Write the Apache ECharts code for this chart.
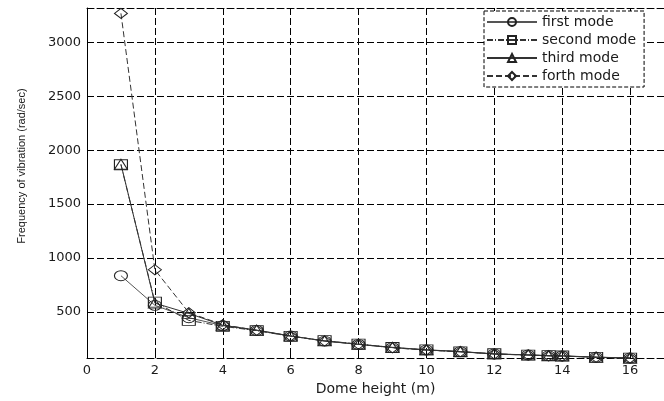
<!DOCTYPE html>
<html>
<head>
<meta charset="utf-8">
<script src="https://cdn.jsdelivr.net/npm/echarts/dist/echarts.min.js"></script>
<style>
  html, body { margin: 0; padding: 0; background: #fff; }
  #main { width: 664px; height: 401px; }
</style>
</head>
<body>
<div id="main"></div>
<script>
// dome height (m)
var heights = [1, 2, 3, 4, 5, 6, 7, 8, 9, 10, 11, 12, 13, 13.6, 14, 15, 16];
// frequency of vibration (rad/sec)
var firstMode  = [835, 560, 445, 372, 327, 275, 228, 197, 167, 145, 130, 108, 99, 92, 90, 78, 71];
var secondMode = [1865, 590, 420, 365, 325, 272, 232, 200, 168, 146, 128, 110, 98, 93, 89, 77, 70];
var thirdMode  = [1870, 580, 485, 375, 330, 276, 230, 198, 170, 147, 131, 109, 100, 92, 91, 79, 71];
var forthMode  = [3270, 890, 492, 380, 328, 274, 229, 199, 166, 144, 129, 107, 98, 91, 89, 78, 70];
var yTicks = [500, 1000, 1500, 2000, 2500, 3000];

var ink = '#1a1a1a';
var font = 'DejaVu Sans';

function pairs(vals) {
    return heights.map(function (h, i) { return [h, vals[i]]; });
}

function mode(name, vals, symbol, dash, lineColor) {
    return {
        name: name,
        type: 'line',
        data: pairs(vals),
        symbol: symbol,
        symbolSize: [13, 10],
        showAllSymbol: true,
        clip: false,
        lineStyle: { color: lineColor, width: 1, type: dash },
        itemStyle: { color: 'rgba(0,0,0,0)', borderColor: '#222', borderWidth: 1 },
        emphasis: { disabled: true },
        z: 5
    };
}

var chart = echarts.init(document.getElementById('main'));
var option = {
    animation: false,
    backgroundColor: '#fff',
    grid: { left: 87, top: 8, right: -16, bottom: 38 },
    legend: {
        orient: 'vertical',
        left: 484,
        top: 11,
        itemWidth: 50,
        itemHeight: 10,
        itemGap: 4,
        padding: [4, 8, 4, 2],
        borderColor: '#000',
        borderWidth: 1,
        borderType: 'dashed',
        backgroundColor: '#fff',
        textStyle: { fontFamily: font, fontSize: 14, color: ink },
        data: ['first mode', 'second mode', 'third mode', 'forth mode']
    },
    xAxis: [{
        type: 'value',
        min: 0,
        max: 17,
        interval: 2,
        name: 'Dome height (m)',
        nameLocation: 'middle',
        nameGap: 23,
        nameTextStyle: { fontFamily: font, fontSize: 14, color: ink },
        axisLine: { lineStyle: { color: '#000', type: [7, 3] } },
        axisTick: { inside: true, length: 4, lineStyle: { color: '#000' } },
        axisLabel: { fontFamily: font, fontSize: 13, color: ink, margin: 6, showMaxLabel: false },
        splitLine: { show: true, lineStyle: { color: '#000', type: [7, 3] } }
    }, {
        type: 'value',
        position: 'top',
        min: 0,
        max: 17,
        interval: 2,
        axisLine: { show: true, onZero: false, lineStyle: { color: '#000', type: [7, 3] } },
        axisTick: { show: true, inside: true, length: 4, lineStyle: { color: '#000' } },
        axisLabel: { show: false },
        splitLine: { show: false }
    }],
    yAxis: {
        type: 'value',
        min: 70,
        max: 3320,
        axisLine: { show: true, onZero: false, lineStyle: { color: '#000', type: [7, 3] } },
        axisTick: { show: true, inside: true, length: 4, customValues: yTicks, lineStyle: { color: '#000' } },
        axisLabel: {
            fontFamily: font, fontSize: 13, color: ink, margin: 6, customValues: yTicks,
            formatter: function (v) { return String(v); }
        },
        splitLine: { show: true, lineStyle: { color: '#000', type: [7, 3] } }
    },
    graphic: [{
        type: 'text',
        x: 22,
        y: 166,
        rotation: Math.PI / 2,
        style: {
            text: 'Frequency of vibration (rad/sec)',
            font: '11px "Liberation Sans"',
            fill: ink,
            align: 'center',
            verticalAlign: 'middle'
        }
    }],
    series: [
        mode('first mode', firstMode, 'circle', 'solid', '#555'),
        mode('second mode', secondMode, 'rect', [6, 2, 1, 2], '#333'),
        mode('third mode', thirdMode, 'triangle', 'solid', '#333'),
        mode('forth mode', forthMode, 'diamond', [6, 3], '#333')
    ]
};
chart.setOption(option);
</script>
</body>
</html>
